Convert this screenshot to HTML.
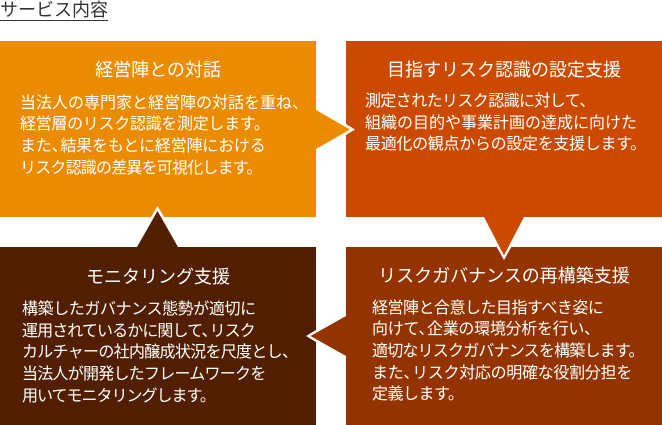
<!DOCTYPE html>
<html>
<head>
<meta charset="utf-8">
<style>
  html, body { margin: 0; padding: 0; background: #fff; }
  body { width: 662px; height: 425px; position: relative; overflow: hidden;
         font-family: "Liberation Sans", "Noto Sans CJK JP", sans-serif; }
  .box { position: absolute; }
  .t { position: absolute; color: #fff; font-size: 18px; line-height: 24px; text-align: center; white-space: nowrap; }
  .b { position: absolute; color: #fff; font-size: 16px; line-height: 21.7px; white-space: nowrap; }
  .b div { height: 21.7px; }
  .p { margin-right: -7px; }
  svg { position: absolute; left: 0; top: 0; }
</style>
</head>
<body>
  <div style="position:absolute;left:0;top:0;font-size:18px;line-height:20px;color:#333;white-space:nowrap;">サービス内容</div>
  <div style="position:absolute;left:0;top:20px;width:108px;height:1px;background:#333;"></div>

  <div class="box" style="left:0;top:41px;width:316px;height:176px;background:#EA8B00;"></div>
  <div class="box" style="left:346px;top:41px;width:316px;height:176px;background:#CC4A00;"></div>
  <div class="box" style="left:0;top:247px;width:316px;height:178px;background:#521E00;"></div>
  <div class="box" style="left:346px;top:247px;width:316px;height:178px;background:#933400;"></div>

  <svg width="662" height="425" viewBox="0 0 662 425">
    <polygon points="316,106 355,129.5 316,153" fill="#fff"/>
    <polygon points="316,110 350,129.5 316,149" fill="#EA8B00"/>
    <polygon points="480,217 504,260 528,217" fill="#fff"/>
    <polygon points="484,217 504,255.5 524,217" fill="#CC4A00"/>
    <polygon points="133,247 157.5,206 182,247" fill="#fff"/>
    <polygon points="137,247 157.5,211 178,247" fill="#521E00"/>
    <polygon points="346,312 306,336 346,360" fill="#fff"/>
    <polygon points="346,316 310.5,336 346,356" fill="#933400"/>
  </svg>

  <div class="t" style="left:0;width:316px;top:58px;">経営陣との対話</div>
  <div class="b" style="left:20px;top:92.5px;">
    <div>当法人の専門家と経営陣の対話を重ね、</div>
    <div style="letter-spacing:-0.3px;">経営層のリスク認識を測定します。</div>
    <div style="letter-spacing:-0.2px;">また<span class="p">、</span>結果をもとに経営陣における</div>
    <div style="letter-spacing:-0.8px;">リスク認識の差異を可視化します。</div>
  </div>

  <div class="t" style="left:346px;width:316px;top:57.5px;">目指すリスク認識の設定支援</div>
  <div class="b" style="left:365px;top:91px;">
    <div style="letter-spacing:-0.6px;">測定されたリスク認識に対して、</div>
    <div>組織の目的や事業計画の達成に向けた</div>
    <div style="letter-spacing:-0.3px;">最適化の観点からの設定を支援します。</div>
  </div>

  <div class="t" style="left:0;width:316px;top:264.5px;">モニタリング支援</div>
  <div class="b" style="left:22px;top:299px;">
    <div style="letter-spacing:-0.4px;">構築したガバナンス態勢が適切に</div>
    <div style="letter-spacing:-0.9px;">運用されているかに関して<span class="p">、</span>リスク</div>
    <div style="letter-spacing:-0.7px;">カルチャーの社内醸成状況を尺度とし、</div>
    <div style="letter-spacing:-0.75px;">当法人が開発したフレームワークを</div>
    <div style="letter-spacing:-1px;">用いてモニタリングします。</div>
  </div>

  <div class="t" style="left:346px;width:316px;top:264px;">リスクガバナンスの再構築支援</div>
  <div class="b" style="left:372px;top:297.7px;">
    <div style="letter-spacing:-0.5px;">経営陣と合意した目指すべき姿に</div>
    <div style="letter-spacing:-0.3px;">向けて<span class="p">、</span>企業の環境分析を行い、</div>
    <div style="letter-spacing:-0.8px;">適切なリスクガバナンスを構築します。</div>
    <div style="letter-spacing:-0.3px;">また<span class="p">、</span>リスク対応の明確な役割分担を</div>
    <div style="letter-spacing:-0.5px;">定義します。</div>
  </div>
</body>
</html>
